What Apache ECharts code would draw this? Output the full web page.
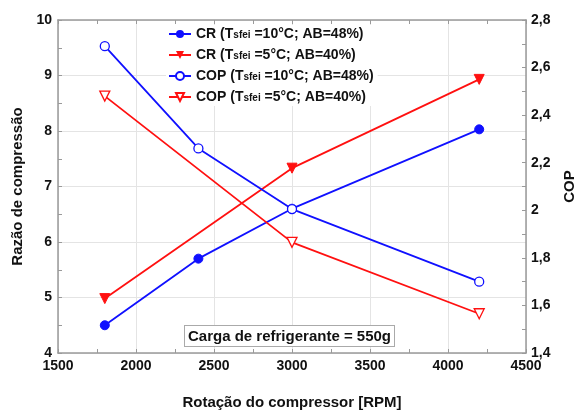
<!DOCTYPE html>
<html>
<head>
<meta charset="utf-8">
<script src="https://cdn.jsdelivr.net/npm/echarts@6/dist/echarts.min.js"></script>
<style>
html,body{margin:0;padding:0;background:#fff;}
#chart{width:578px;height:411px;}
</style>
</head>
<body>
<div id="chart"></div>
<script>
// ---- data ----
var rpm10 = [1800, 2400, 3000, 4200];
var cr10 = [4.5, 5.7, 6.6, 8.03];
var cop10 = [2.69, 2.26, 2.005, 1.70];
var rpm5 = [1800, 3000, 4200];
var cr5 = [4.98, 7.33, 8.93];
var cop5 = [2.48, 1.865, 1.565];
var seriesNames = [
  'CR (Tsfei =10°C; AB=48%)',
  'CR (Tsfei =5°C; AB=40%)',
  'COP (Tsfei =10°C; AB=48%)',
  'COP (Tsfei =5°C; AB=40%)'
];
var xTitle = 'Rotação do compressor [RPM]';
var yLeftTitle = 'Razão de compressão';
var yRightTitle = 'COP';
var noteText = 'Carga de refrigerante = 550g';

function pairs(xs, ys) { return xs.map(function (x, i) { return [x, ys[i]]; }); }

var FONT = '"Liberation Sans", Arial, sans-serif';
var BLUE = '#1010ff', RED = '#ff1010';
var AXIS = '#9a9a9a';

var chart = echarts.init(document.getElementById('chart'), null, {renderer: 'canvas'});
var labelStyle = {color: '#111', fontWeight: 'bold', fontSize: 14, fontFamily: FONT};

var option = {
  backgroundColor: '#fff',
  animation: false,
  grid: {left: 58, right: 52, top: 20, bottom: 58, containLabel: false, outerBoundsMode: 'none'},
  legend: {
    orient: 'vertical',
    left: 166, top: 25,
    itemWidth: 22, itemHeight: 10, itemGap: 7,
    backgroundColor: '#fff',
    padding: [2, 4, 2, 2],
    data: seriesNames,
    formatter: function (name) {
      var i = name.indexOf('Tsfei');
      return '{a|' + name.slice(0, i + 1) + '}{s|sfei}{a|' + name.slice(i + 5) + '}';
    },
    textStyle: {
      rich: {
        a: {fontSize: 14, fontWeight: 'bold', color: '#111', fontFamily: FONT},
        s: {fontSize: 10, fontWeight: 'bold', color: '#111', fontFamily: FONT, padding: [3, 0, 0, 0]}
      }
    }
  },
  xAxis: [{
    type: 'value', min: 1500, max: 4500, interval: 500,
    name: xTitle, nameLocation: 'middle', nameGap: 42,
    nameTextStyle: {color: '#111', fontWeight: 'bold', fontSize: 15, fontFamily: FONT},
    axisLine: {show: true, onZero: false, lineStyle: {color: AXIS, width: 1.5}},
    axisTick: {show: true, inside: true, length: 4, lineStyle: {color: AXIS}},
    minorTick: {show: true, splitNumber: 2, length: 4, lineStyle: {color: AXIS}},
    axisLabel: Object.assign({margin: 6, formatter: function (v) { return String(v); }}, labelStyle),
    splitLine: {show: true, lineStyle: {color: '#e4e4e4', width: 1}}
  }, {
    type: 'value', min: 1500, max: 4500, interval: 500, position: 'top',
    axisLine: {show: true, onZero: false, lineStyle: {color: AXIS, width: 1.5}},
    axisTick: {show: true, inside: true, length: 4, lineStyle: {color: AXIS}},
    minorTick: {show: true, splitNumber: 2, length: 4, lineStyle: {color: AXIS}},
    axisLabel: {show: false},
    splitLine: {show: false}
  }],
  yAxis: [{
    type: 'value', min: 4, max: 10, interval: 1,
    name: yLeftTitle, nameLocation: 'middle', nameGap: 33, nameRotate: 90,
    nameTextStyle: {color: '#111', fontWeight: 'bold', fontSize: 15, fontFamily: FONT},
    axisLine: {show: true, onZero: false, lineStyle: {color: AXIS, width: 1.5}},
    axisTick: {show: true, inside: true, length: 4, lineStyle: {color: AXIS}},
    minorTick: {show: true, splitNumber: 2, length: 4, lineStyle: {color: AXIS}},
    axisLabel: Object.assign({margin: 6}, labelStyle),
    splitLine: {show: true, lineStyle: {color: '#e4e4e4', width: 1}}
  }, {
    type: 'value', min: 1.4, max: 2.8, interval: 0.2, position: 'right',
    name: yRightTitle, nameLocation: 'middle', nameGap: 36, nameRotate: 90,
    nameTextStyle: {color: '#111', fontWeight: 'bold', fontSize: 15, fontFamily: FONT},
    axisLine: {show: true, onZero: false, lineStyle: {color: AXIS, width: 1.5}},
    axisTick: {show: true, inside: true, length: 4, lineStyle: {color: AXIS}},
    minorTick: {show: true, splitNumber: 2, length: 4, lineStyle: {color: AXIS}},
    axisLabel: Object.assign({
      margin: 5,
      formatter: function (v) { return String(+(+v).toFixed(1)).replace('.', ','); }
    }, labelStyle),
    splitLine: {show: false}
  }],
  series: [{
    name: seriesNames[0], type: 'line', yAxisIndex: 0,
    data: pairs(rpm10, cr10),
    symbol: 'circle', symbolSize: 9,
    lineStyle: {color: BLUE, width: 1.8},
    itemStyle: {color: BLUE, borderColor: BLUE}
  }, {
    name: seriesNames[1], type: 'line', yAxisIndex: 0,
    data: pairs(rpm5, cr5),
    symbol: 'triangle', symbolRotate: 180, symbolSize: 10,
    lineStyle: {color: RED, width: 1.8},
    itemStyle: {color: RED, borderColor: RED}
  }, {
    name: seriesNames[2], type: 'line', yAxisIndex: 1,
    data: pairs(rpm10, cop10),
    symbol: 'circle', symbolSize: 9,
    lineStyle: {color: BLUE, width: 1.8},
    itemStyle: {color: '#fff', borderColor: BLUE, borderWidth: 1.3}
  }, {
    name: seriesNames[3], type: 'line', yAxisIndex: 1,
    data: pairs(rpm5, cop5),
    symbol: 'triangle', symbolRotate: 180, symbolSize: 10,
    lineStyle: {color: RED, width: 1.8},
    itemStyle: {color: '#fff', borderColor: RED, borderWidth: 1.3}
  }],
  graphic: [{
    type: 'text', left: 184, top: 325, z: 100,
    style: {
      text: noteText, fill: '#111',
      font: 'bold 15px ' + FONT,
      backgroundColor: '#fff', borderColor: '#aaa', borderWidth: 1,
      padding: [3, 3, 2, 3]
    }
  }]
};
chart.setOption(option);
</script>
</body>
</html>
